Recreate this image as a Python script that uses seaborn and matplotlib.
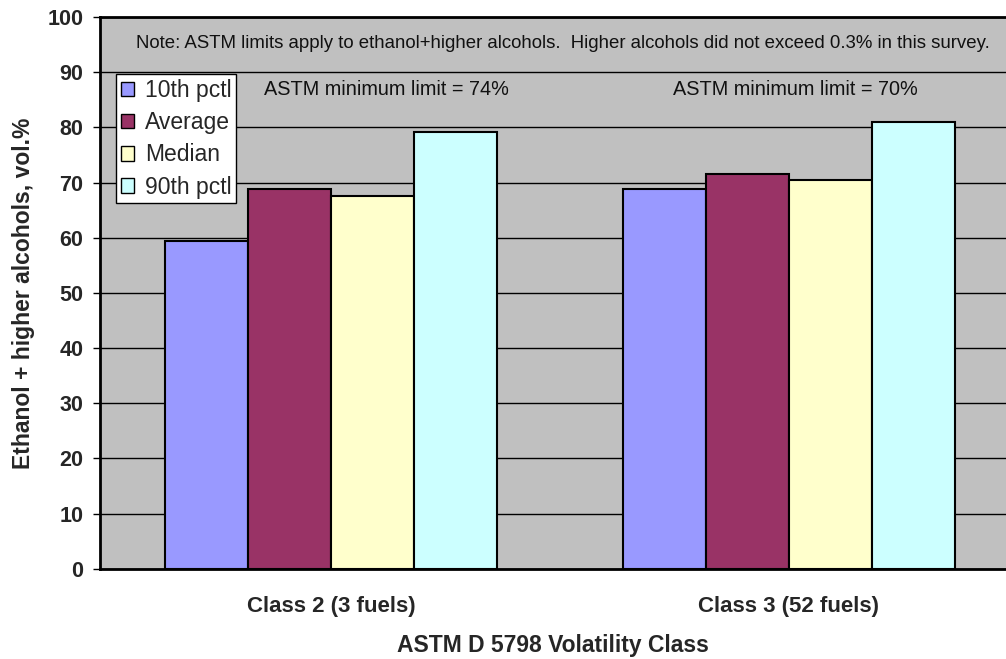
import matplotlib
matplotlib.use("Agg")
import matplotlib.pyplot as plt
import seaborn as sns
import pandas as pd

classes = ["Class 2 (3 fuels)", "Class 3 (52 fuels)"]
stats = ["10th pctl", "Average", "Median", "90th pctl"]
class2_values = [59.5, 68.8, 67.6, 79.2]
class3_values = [68.8, 71.5, 70.5, 80.9]
colors = ["#9999FF", "#993366", "#FFFFCC", "#CCFFFF"]
limit_labels = ["ASTM minimum limit = 74%", "ASTM minimum limit = 70%"]
note = "Note: ASTM limits apply to ethanol+higher alcohols.  Higher alcohols did not exceed 0.3% in this survey."

rows = []
for cls, vals in zip(classes, [class2_values, class3_values]):
    for s, v in zip(stats, vals):
        rows.append({"cls": cls, "stat": s, "value": v})
df = pd.DataFrame(rows)

sns.set_style("white")
plt.rcParams["font.family"] = ["Liberation Sans", "DejaVu Sans"]

fig = plt.figure(figsize=(10.06, 6.59), dpi=100)
ax = fig.add_axes([0.0994, 0.137, 0.9006, 0.837])
ax.set_facecolor("#C0C0C0")

sns.barplot(data=df, x="cls", y="value", hue="stat", order=classes,
            hue_order=stats, palette=colors, width=0.726, gap=0,
            edgecolor="black", linewidth=1.5, saturation=1, ax=ax, zorder=3)

ax.set_ylim(0, 100)
ax.set_xlim(-0.505, 1.475)
ax.set_yticks(range(0, 101, 10))
ax.yaxis.grid(True, color="black", linewidth=1.0, zorder=0)
ax.set_axisbelow(True)
ax.tick_params(axis="y", direction="out", length=5, width=1, color="black",
               labelsize=15.5, pad=7, left=True)
ax.tick_params(axis="x", length=0, labelsize=16, pad=20)
for lab in ax.get_yticklabels() + ax.get_xticklabels():
    lab.set_fontweight("bold")

for side in ["left", "bottom", "top"]:
    ax.spines[side].set_visible(True)
    ax.spines[side].set_color("black")
    ax.spines[side].set_linewidth(2)
ax.spines["right"].set_visible(False)

ax.set_xlabel("ASTM D 5798 Volatility Class", fontsize=16.5, fontweight="bold", labelpad=12)
ax.set_ylabel("Ethanol + higher alcohols, vol.%", fontsize=16.5, fontweight="bold", labelpad=9)

ax.text(0.507, 95.2, note, ha="center", va="center", fontsize=13.4, color="#111111")
for xpos, lab in zip([0.12, 1.015], limit_labels):
    ax.text(xpos, 86.8, lab, ha="center", va="center", fontsize=14.3, color="#111111")

leg = ax.legend(loc="upper left", bbox_to_anchor=(0.0177, 0.896), frameon=True,
                fancybox=False, edgecolor="black", framealpha=1, fontsize=16.5,
                handlelength=0.6, handleheight=0.6, handletextpad=0.45,
                borderpad=0.2, labelspacing=0.4, borderaxespad=0)
leg.get_frame().set_linewidth(1)
for h in leg.legend_handles:
    h.set_linewidth(1)

fig.savefig("out.png", dpi=100)
